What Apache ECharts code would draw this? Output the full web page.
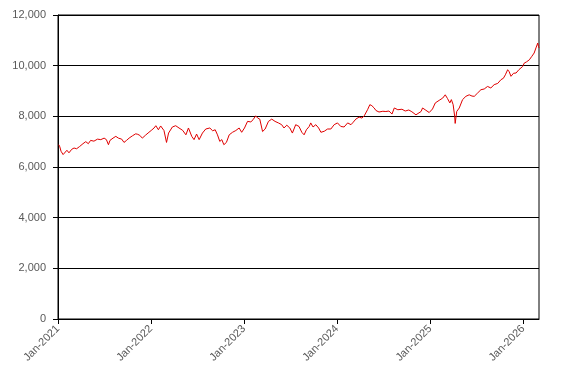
<!DOCTYPE html>
<html>
<head>
<meta charset="utf-8">
<script src="https://cdn.jsdelivr.net/npm/echarts@6/dist/echarts.min.js"></script>
<style>html,body{margin:0;padding:0;background:#fff}#c{width:567px;height:382px}</style>
</head>
<body>
<div id="c"></div>
<script>
const dates = [
'2021-01-04','2021-01-08','2021-01-13','2021-01-21','2021-01-28','2021-02-05','2021-02-13','2021-02-24','2021-03-05','2021-03-15',
'2021-03-27','2021-04-09','2021-04-20','2021-04-30','2021-05-09','2021-05-22','2021-06-05','2021-06-18','2021-07-01','2021-07-10',
'2021-07-18','2021-07-24','2021-08-05','2021-08-16','2021-08-26','2021-09-08','2021-09-17','2021-09-27','2021-10-07','2021-10-20',
'2021-11-02','2021-11-10','2021-11-18','2021-11-28','2021-12-11','2021-12-24',
'2022-01-04','2022-01-13','2022-01-20','2022-01-30','2022-02-08','2022-02-21','2022-03-03','2022-03-11','2022-03-26','2022-04-08',
'2022-04-21','2022-05-05','2022-05-18','2022-05-28','2022-06-10','2022-06-19','2022-06-29','2022-07-09','2022-07-22','2022-08-04',
'2022-08-20','2022-08-31','2022-09-10','2022-09-19','2022-09-28','2022-10-06','2022-10-14','2022-10-24','2022-11-04','2022-11-17',
'2022-11-30','2022-12-13','2022-12-23',
'2023-01-03','2023-01-15','2023-01-28','2023-02-06','2023-02-16','2023-02-24','2023-03-04','2023-03-15','2023-03-25','2023-04-07',
'2023-04-20','2023-05-03','2023-05-16','2023-05-29','2023-06-07','2023-06-18','2023-06-30','2023-07-10','2023-07-23','2023-08-05',
'2023-08-16','2023-08-25','2023-09-03','2023-09-14','2023-09-20','2023-09-29','2023-10-10','2023-10-21','2023-10-30','2023-11-12',
'2023-11-25','2023-12-08','2023-12-21',
'2024-01-03','2024-01-16','2024-01-29','2024-02-12','2024-02-25','2024-03-05','2024-03-15','2024-03-28','2024-04-08','2024-04-17',
'2024-04-23','2024-04-30','2024-05-09','2024-05-17','2024-05-26','2024-06-02','2024-06-14','2024-06-29','2024-07-11','2024-07-23',
'2024-08-04','2024-08-13','2024-08-27','2024-09-12','2024-09-25','2024-10-09','2024-10-21','2024-11-06','2024-11-13','2024-11-26',
'2024-12-02','2024-12-15','2024-12-28',
'2025-01-10','2025-01-21','2025-02-05','2025-02-19','2025-03-01','2025-03-10','2025-03-19','2025-03-25','2025-04-01','2025-04-07',
'2025-04-09','2025-04-15','2025-04-25','2025-05-08','2025-05-21','2025-06-03','2025-06-14','2025-06-23','2025-07-06','2025-07-19',
'2025-08-01','2025-08-14','2025-08-27','2025-09-09','2025-09-23','2025-10-06','2025-10-15','2025-10-23','2025-11-01','2025-11-07',
'2025-11-14','2025-11-24','2025-12-04','2025-12-15','2025-12-30',
'2026-01-05','2026-01-14','2026-01-25','2026-02-04','2026-02-13','2026-02-20','2026-02-27','2026-03-02','2026-03-04'
];
const values = [
6880,6800,6620,6490,6560,6660,6560,6700,6750,6720,
6810,6920,7000,6920,7050,7020,7100,7080,7140,7080,
6880,7050,7140,7210,7140,7100,6970,7050,7140,7230,
7310,7290,7250,7140,7260,7370,
7460,7540,7630,7470,7620,7440,6970,7340,7580,7630,
7540,7450,7270,7540,7210,7080,7300,7080,7340,7500,
7540,7430,7470,7270,7010,7080,6880,6970,7270,7370,
7440,7540,7370,
7540,7800,7780,7870,8020,7930,7890,7400,7500,7800,
7890,7800,7740,7670,7540,7650,7540,7340,7670,7600,
7370,7270,7470,7600,7740,7580,7670,7540,7370,7410,
7500,7500,7670,
7740,7600,7580,7740,7670,7770,7890,7970,7930,8020,
8060,8260,8460,8420,8330,8230,8170,8200,8190,8210,
8090,8330,8260,8280,8210,8250,8180,8060,8010,8190,
8330,8240,8150,
8290,8530,8630,8720,8850,8700,8530,8660,8460,8000,
7720,8190,8330,8660,8790,8850,8800,8790,8920,9050,
9080,9180,9120,9250,9300,9450,9500,9640,9840,9760,
9580,9700,9710,9840,9970,
10100,10150,10230,10370,10500,10700,10890,10760,10700
];
const yearTicks = ['2021-01-01','2022-01-01','2023-01-01','2024-01-01','2025-01-01','2026-01-01'];
const yMin = 0, yMax = 12000, yStep = 2000;

const ts = s => { const p = s.split('-').map(Number); return Date.UTC(p[0], p[1]-1, p[2]); };
const tickVals = yearTicks.map(ts);
const seriesData = dates.map((d, i) => [ts(d), values[i]]);

const chart = echarts.init(document.getElementById('c'), null, {renderer: 'canvas'});
chart.setOption({
  animation: false,
  backgroundColor: '#fff',
  grid: {left: 58, right: 28, top: 15, bottom: 63, containLabel: false, show: true, borderColor: '#000', borderWidth: 1, backgroundColor: 'transparent'},
  xAxis: {
    type: 'value',
    min: ts(yearTicks[0]),
    max: ts(dates[dates.length - 1]),
    splitLine: {show: false},
    axisLine: {show: true, onZero: false, lineStyle: {color: '#000', width: 1}},
    axisTick: {show: true, length: 5, inside: false, customValues: tickVals, lineStyle: {color: '#000'}},
    axisLabel: {
      customValues: tickVals,
      rotate: 45, margin: 8, color: '#595959', fontSize: 11, fontFamily: 'Liberation Sans, Arial, sans-serif',
      formatter: v => 'Jan-' + new Date(v + 43200000).getUTCFullYear()
    }
  },
  yAxis: {
    type: 'value', min: yMin, max: yMax, interval: yStep,
    axisLine: {show: true, lineStyle: {color: '#000', width: 1}},
    axisTick: {show: true, length: 5, inside: false, lineStyle: {color: '#000'}},
    splitLine: {show: true, lineStyle: {color: '#000', width: 1}},
    axisLabel: {margin: 12, color: '#595959', fontSize: 11, fontFamily: 'Liberation Sans, Arial, sans-serif',
      formatter: v => v.toLocaleString('en-US')}
  },
  series: [{
    type: 'line', data: seriesData, showSymbol: false, symbol: 'none',
    lineStyle: {color: '#e00000', width: 1}, silent: true
  }]
});
</script>
</body>
</html>
